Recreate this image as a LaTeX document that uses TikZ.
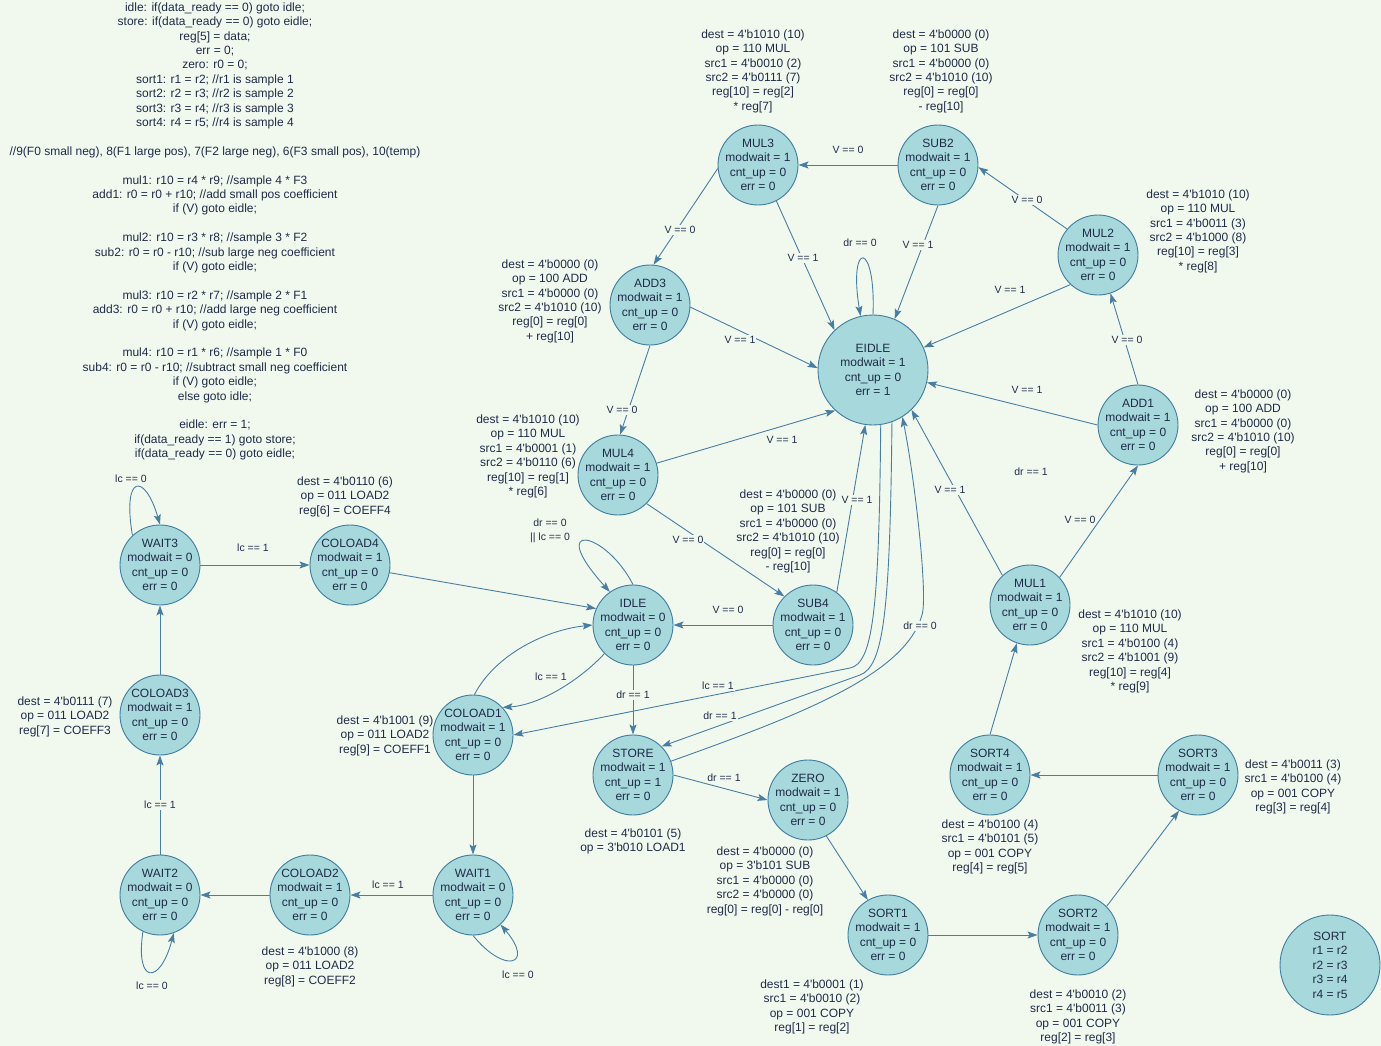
\documentclass[tikz,border=0pt]{standalone}
\usepackage{fontspec}
\setmainfont{Liberation Sans}[Ligatures=TeXOff]
\usetikzlibrary{arrows.meta}
\definecolor{bg}{HTML}{F1F9EF}
\definecolor{nodefill}{HTML}{A7D8DC}
\definecolor{nodeline}{HTML}{3F7C9E}
\definecolor{edgecol}{HTML}{497DA2}
\definecolor{ink}{HTML}{1F2B48}
\begin{document}
\begin{tikzpicture}[x=1pt,y=-1pt,
  state/.style={circle,draw=nodeline,fill=nodefill,line width=0.9pt,minimum size=80pt,inner sep=0pt},
  statetext/.style={align=center,inner sep=0pt,text=ink,font=\fontsize{12}{14.5}\selectfont},
  st/.style={state,label={[statetext]center:#1}},
  edge/.style={draw=edgecol,line width=0.9pt,-{Stealth[length=10pt,width=7pt,inset=2pt]}},
  lbl/.style={font=\fontsize{10.5}{14}\selectfont,text=ink,fill=bg,inner sep=1pt,align=center},
  note/.style={font=\fontsize{12}{14.4}\selectfont,text=ink,align=center,inner sep=0pt,anchor=north},
]
\fill[bg] (0,0) rectangle (1381,1046);
\useasboundingbox (0,0) rectangle (1381,1046);

% ---------- pseudo code ----------
\node[note] (code) at (215,2.5) {idle: if(data\_ready == 0) goto idle;\\
store: if(data\_ready == 0) goto eidle;\\
reg[5] = data;\\
err = 0;\\
zero: r0 = 0;\\
sort1: r1 = r2; //r1 is sample 1\\
sort2: r2 = r3; //r2 is sample 2\\
sort3: r3 = r4; //r3 is sample 3\\
sort4: r4 = r5; //r4 is sample 4\\[14.4pt]
//9(F0 small neg), 8(F1 large pos), 7(F2 large neg), 6(F3 small pos), 10(temp)\\[14.4pt]
mul1: r10 = r4 * r9; //sample 4 * F3\\
add1: r0 = r0 + r10; //add small pos coefficient\\
if (V) goto eidle;\\[14.4pt]
mul2: r10 = r3 * r8; //sample 3 * F2\\
sub2: r0 = r0 - r10; //sub large neg coefficient\\
if (V) goto eidle;\\[14.4pt]
mul3: r10 = r2 * r7; //sample 2 * F1\\
add3: r0 = r0 + r10; //add large neg coefficient\\
if (V) goto eidle;\\[14.4pt]
mul4: r10 = r1 * r6; //sample 1 * F0\\
sub4: r0 = r0 - r10; //subtract small neg coefficient\\
if (V) goto eidle;\\
else goto idle;\\[14.4pt]
eidle: err = 1;\\
if(data\_ready == 1) goto store;\\
if(data\_ready == 0) goto eidle;};

% ---------- states ----------
\node[st={MUL3\\modwait = 1\\cnt\_up = 0\\err = 0}] (mul3) at (758,165) {};
\node[st={SUB2\\modwait = 1\\cnt\_up = 0\\err = 0}] (sub2) at (938,165) {};
\node[st={MUL2\\modwait = 1\\cnt\_up = 0\\err = 0}] (mul2) at (1098,255) {};
\node[st={ADD3\\modwait = 1\\cnt\_up = 0\\err = 0}] (add3) at (650,305) {};
\node[state,minimum size=110pt,label={[statetext]center:EIDLE\\modwait = 1\\cnt\_up = 0\\err = 1}] (eidle) at (873,370) {};
\node[st={ADD1\\modwait = 1\\cnt\_up = 0\\err = 0}] (add1) at (1138,425) {};
\node[st={MUL4\\modwait = 1\\cnt\_up = 0\\err = 0}] (mul4) at (618,475) {};
\node[st={WAIT3\\modwait = 0\\cnt\_up = 0\\err = 0}] (wait3) at (160,565) {};
\node[st={COLOAD4\\modwait = 1\\cnt\_up = 0\\err = 0}] (coload4) at (350,565) {};
\node[st={IDLE\\modwait = 0\\cnt\_up = 0\\err = 0}] (idle) at (633,625) {};
\node[st={SUB4\\modwait = 1\\cnt\_up = 0\\err = 0}] (sub4) at (813,625) {};
\node[st={MUL1\\modwait = 1\\cnt\_up = 0\\err = 0}] (mul1) at (1030,605) {};
\node[st={COLOAD3\\modwait = 1\\cnt\_up = 0\\err = 0}] (coload3) at (160,715) {};
\node[st={COLOAD1\\modwait = 1\\cnt\_up = 0\\err = 0}] (coload1) at (473,735) {};
\node[st={STORE\\modwait = 1\\cnt\_up = 1\\err = 0}] (store) at (633,775) {};
\node[st={ZERO\\modwait = 1\\cnt\_up = 0\\err = 0}] (zero) at (808,800) {};
\node[st={SORT4\\modwait = 1\\cnt\_up = 0\\err = 0}] (sort4) at (990,775) {};
\node[st={SORT3\\modwait = 1\\cnt\_up = 0\\err = 0}] (sort3) at (1198,775) {};
\node[st={WAIT2\\modwait = 0\\cnt\_up = 0\\err = 0}] (wait2) at (160,895) {};
\node[st={COLOAD2\\modwait = 1\\cnt\_up = 0\\err = 0}] (coload2) at (310,895) {};
\node[st={WAIT1\\modwait = 0\\cnt\_up = 0\\err = 0}] (wait1) at (473,895) {};
\node[st={SORT1\\modwait = 1\\cnt\_up = 0\\err = 0}] (sort1) at (888,935) {};
\node[st={SORT2\\modwait = 1\\cnt\_up = 0\\err = 0}] (sort2) at (1078,935) {};
\node[state,minimum size=100pt,label={[statetext]center:SORT\\r1 = r2\\r2 = r3\\r3 = r4\\r4 = r5}] (sort) at (1330,965) {};

% ---------- operation notes ----------
\node[note] (n-mul3) at (753,29.5) {dest = 4'b1010 (10)\\op = 110 MUL\\src1 = 4'b0010 (2)\\src2 = 4'b0111 (7)\\reg[10] = reg[2]\\{}* reg[7]};
\node[note] (n-sub2) at (941,29.5) {dest = 4'b0000 (0)\\op = 101 SUB\\src1 = 4'b0000 (0)\\src2 = 4'b1010 (10)\\reg[0] = reg[0]\\{}- reg[10]};
\node[note] (n-mul2) at (1198,189.5) {dest = 4'b1010 (10)\\op = 110 MUL\\src1 = 4'b0011 (3)\\src2 = 4'b1000 (8)\\reg[10] = reg[3]\\{}* reg[8]};
\node[note] (n-add3) at (550,259.5) {dest = 4'b0000 (0)\\op = 100 ADD\\src1 = 4'b0000 (0)\\src2 = 4'b1010 (10)\\reg[0] = reg[0]\\{}+ reg[10]};
\node[note] (n-add1) at (1243,389.5) {dest = 4'b0000 (0)\\op = 100 ADD\\src1 = 4'b0000 (0)\\src2 = 4'b1010 (10)\\reg[0] = reg[0]\\{}+ reg[10]};
\node[note] (n-mul4) at (528,414.5) {dest = 4'b1010 (10)\\op = 110 MUL\\src1 = 4'b0001 (1)\\src2 = 4'b0110 (6)\\reg[10] = reg[1]\\{}* reg[6]};
\node[note] (n-sub4) at (788,489.5) {dest = 4'b0000 (0)\\op = 101 SUB\\src1 = 4'b0000 (0)\\src2 = 4'b1010 (10)\\reg[0] = reg[0]\\{}- reg[10]};
\node[note] (n-coload4) at (345,476.5) {dest = 4'b0110 (6)\\op = 011 LOAD2\\reg[6] = COEFF4};
\node[note] (n-coload3) at (65,696.5) {dest = 4'b0111 (7)\\op = 011 LOAD2\\reg[7] = COEFF3};
\node[note] (n-coload1) at (385,715.5) {dest = 4'b1001 (9)\\op = 011 LOAD2\\reg[9] = COEFF1};
\node[note] (n-coload2) at (310,946.5) {dest = 4'b1000 (8)\\op = 011 LOAD2\\reg[8] = COEFF2};
\node[note] (n-store) at (633,828.5) {dest = 4'b0101 (5)\\op = 3'b010 LOAD1};
\node[note] (n-zero) at (765,846.5) {dest = 4'b0000 (0)\\op = 3'b101 SUB\\src1 = 4'b0000 (0)\\src2 = 4'b0000 (0)\\reg[0] = reg[0] - reg[0]};
\node[note] (n-mul1) at (1130,609.5) {dest = 4'b1010 (10)\\op = 110 MUL\\src1 = 4'b0100 (4)\\src2 = 4'b1001 (9)\\reg[10] = reg[4]\\{}* reg[9]};
\node[note] (n-sort4) at (990,819.5) {dest = 4'b0100 (4)\\src1 = 4'b0101 (5)\\op = 001 COPY\\reg[4] = reg[5]};
\node[note] (n-sort3) at (1293,759.5) {dest = 4'b0011 (3)\\src1 = 4'b0100 (4)\\op = 001 COPY\\reg[3] = reg[4]};
\node[note] (n-sort1) at (812,979.5) {dest1 = 4'b0001 (1)\\src1 = 4'b0010 (2)\\op = 001 COPY\\reg[1] = reg[2]};
\node[note] (n-sort2) at (1078,989.5) {dest = 4'b0010 (2)\\src1 = 4'b0011 (3)\\op = 001 COPY\\reg[2] = reg[3]};

% ---------- transitions ----------
\draw[edge] (sub2) -- (mul3);
\draw[edge] (mul2.140) -- (sub2.-3);
\draw[edge] (mul3.185) -- (add3.85);
\draw[edge] (mul3.-63) -- (eidle.134);
\draw[edge] (sub2.-90) -- (eidle.67);
\draw[edge] (eidle.90) .. controls (876,240) and (848,240) .. (eidle.103);
\draw[edge] (mul2.-133) -- (eidle.24);
\draw[edge] (add3.-3) -- (eidle.178);
\draw[edge] (add1.90) -- (mul2.-72);
\draw[edge] (add1.180) -- (eidle.-13);
\draw[edge] (add3.-90) -- (mul4.87);
\draw[edge] (mul4.17) -- (eidle.-133);
\draw[edge] (mul4.-45) -- (sub4.135);
\draw[edge] (sub4) -- (idle);
\draw[edge] (sub4.54) -- (eidle.-98);
\draw[edge] (mul1.133) -- (eidle.-46);
\draw[edge] (mul1.43) -- (add1.-90);
\draw[edge] (idle.90) .. controls (605,530) and (545,520) .. (idle.125);
\draw[edge] (coload4.-11) -- (idle.156);
\draw[edge] (wait3) -- (coload4);
\draw[edge] (wait3.133) .. controls (122,473) and (145,473) .. (wait3.90);
\draw[edge] (coload3) -- (wait3);
\draw[edge] (wait2) -- (coload3);
\draw[edge] (wait2.-115) .. controls (135,985) and (160,985) .. (wait2.-70);
\draw[edge] (coload2) -- (wait2);
\draw[edge] (wait1) -- (coload2);
\draw[edge] (wait1.-90) .. controls (505,975) and (535,965) .. (wait1.-47);
\draw[edge] (coload1) -- (wait1);
\draw[edge] (idle.-135) .. controls (580,680) and (540,705) .. (coload1.43);
\draw[edge] (coload1.88) .. controls (495,655) and (545,630) .. (idle.180);
\draw[edge] (idle) -- (store);
\draw[edge] (store.0) -- (zero.180);
\draw[edge] (zero.-63) -- (sort1.120);
\draw[edge] (sort1) -- (sort2);
\draw[edge] (sort2.45) -- (sort3.-118);
\draw[edge] (sort3) -- (sort4);
\draw[edge] (sort4.90) -- (mul1.-109);
% long returns from the error state
\coordinate (ka) at (850,668);
\coordinate (kb) at (860,675);
\draw[edge] (eidle.-82) .. controls (879,610) and (873,663.4) .. (ka) -- (coload1.0);
\draw[edge] (eidle.-70) .. controls (890,610) and (884,666) .. (kb) -- (store.45);
\coordinate (kc) at (922,615);
\draw[edge] (store.20) .. controls (800,715) and (905,675) .. (kc) .. controls (928,595) and (915,480) .. (eidle.-58);

% ---------- transition labels ----------
\node[lbl] (l1) at (848,150) {V == 0};
\node[lbl] (l2) at (1027,200) {V == 0};
\node[lbl] (l3) at (680,230) {V == 0};
\node[lbl] (l4) at (803,258) {V == 1};
\node[lbl] (l5) at (918,245) {V == 1};
\node[lbl] (l6) at (860,243) {dr == 0};
\node[lbl] (l7) at (1010,290) {V == 1};
\node[lbl] (l8) at (740,340) {V == 1};
\node[lbl] (l9) at (1127,340) {V == 0};
\node[lbl] (l10) at (1027,390) {V == 1};
\node[lbl] (l11) at (622,410) {V == 0};
\node[lbl] (l12) at (782,440) {V == 1};
\node[lbl] (l13) at (688,540) {V == 0};
\node[lbl] (l14) at (728,610) {V == 0};
\node[lbl] (l15) at (857,500) {V == 1};
\node[lbl] (l16) at (950,490) {V == 1};
\node[lbl] (l17) at (1080,520) {V == 0};
\node[lbl] (l18) at (1031,472) {dr == 1};
\node[lbl] (l19) at (550,531) {dr == 0\\|| lc == 0};
\node[lbl] (l20) at (131,479) {lc == 0};
\node[lbl] (l21) at (253,548) {lc == 1};
\node[lbl] (l22) at (160,805) {lc == 1};
\node[lbl] (l23) at (152,986) {lc == 0};
\node[lbl] (l24) at (388,885) {lc == 1};
\node[lbl] (l25) at (518,975) {lc == 0};
\node[lbl] (l26) at (551,677) {lc == 1};
\node[lbl] (l27) at (633,695) {dr == 1};
\node[lbl] (l28) at (724,778) {dr == 1};
\node[lbl] (l29) at (718,686) {lc == 1};
\node[lbl] (l30) at (720,716) {dr == 1};
\node[lbl] (l31) at (920,626) {dr == 0};
\end{tikzpicture}
\end{document}
